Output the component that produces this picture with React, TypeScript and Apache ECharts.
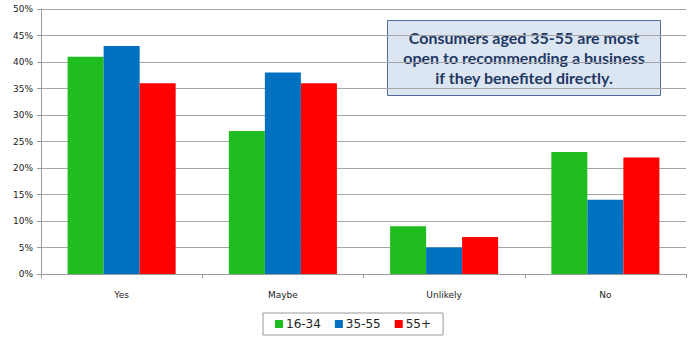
import React, { useEffect, useRef } from "react";
import * as echarts from "echarts";

const categories = ["Yes", "Maybe", "Unlikely", "No"];
const seriesNames = ["16-34", "35-55", "55+"];
const values1634 = [41, 27, 9, 23];
const values3555 = [43, 38, 5, 14];
const values55 = [36, 36, 7, 22];
const colors = ["#1fbd1f", "#0070c0", "#ff0000"];
const calloutLines = [
  "Consumers aged 35-55 are most",
  "open to recommending a business",
  "if they benefited directly.",
];

export default function App() {
  const ref = useRef<HTMLDivElement>(null);
  useEffect(() => {
    const chart = echarts.init(ref.current!, null, { renderer: "svg" });
    const data = [values1634, values3555, values55];
    chart.setOption({
      animation: false,
      grid: { left: 41, right: 9, top: 9, bottom: 69 },
      legend: {
        data: seriesNames,
        left: 263,
        top: 313,
        width: 167,
        itemWidth: 8,
        itemHeight: 8,
        itemGap: 14,
        borderColor: "#999",
        borderWidth: 1,
        padding: [5, 12, 5, 12],
        icon: "rect",
        textStyle: { fontFamily: "DejaVu Sans", fontSize: 12, color: "#222", padding: [0, 0, 0, -2] },
      },
      xAxis: {
        type: "category",
        data: categories,
        axisLine: { lineStyle: { color: "#999" } },
        axisTick: { show: true, alignWithLabel: false, length: 4, lineStyle: { color: "#999" } },
        axisLabel: { fontFamily: "DejaVu Sans", fontSize: 9, color: "#222", margin: 16 },
      },
      yAxis: {
        type: "value",
        min: 0,
        max: 50,
        interval: 5,
        axisLine: { show: true, lineStyle: { color: "#999" } },
        axisTick: { show: true, length: 4, lineStyle: { color: "#999" } },
        splitLine: { lineStyle: { color: "#a6a6a6" } },
        axisLabel: {
          fontFamily: "DejaVu Sans",
          fontSize: 9,
          color: "#222",
          margin: 8,
          formatter: (v: number) => v + "%",
        },
      },
      series: seriesNames.map((name, i) => ({
        name,
        type: "bar",
        data: data[i],
        barGap: "0%",
        barCategoryGap: "33%",
        itemStyle: { color: colors[i] },
      })),
      graphic: [
        {
          type: "group",
          left: 387,
          top: 20,
          children: [
            {
              type: "rect",
              shape: { x: 0, y: 0, width: 273, height: 75 },
              style: { fill: "#dce6f2", stroke: "#4f6d9a", lineWidth: 1 },
            },
            ...calloutLines.map((t, i) => ({
              type: "text",
              x: 136.5,
              y: 17 + i * 20,
              style: {
                text: t,
                fill: "#1f3864",
                font: "bold 16px Lato",
                align: "center",
                verticalAlign: "middle",
              },
            })),
          ],
        },
      ],
    });
    return () => chart.dispose();
  }, []);
  return <div ref={ref} style={{ width: 695, height: 343, position: "absolute", left: 0, top: 0 }} />;
}
